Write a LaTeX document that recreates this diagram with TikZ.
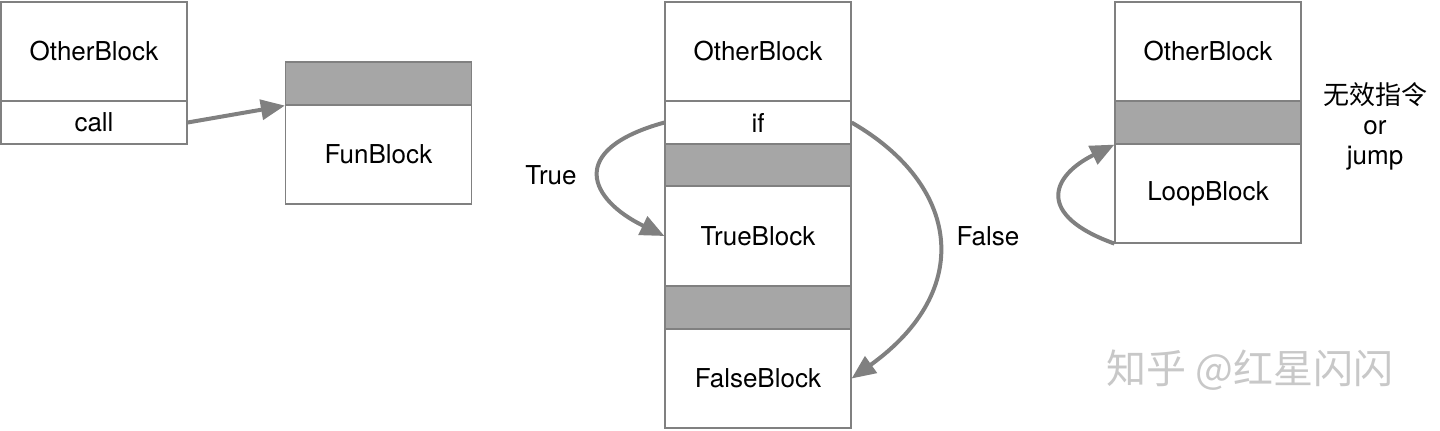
\documentclass[tikz,border=0pt]{standalone}
\usepackage{fontspec}
\setmainfont{TeX Gyre Heros}
\newfontfamily\cjk{Noto Sans CJK SC}
\usetikzlibrary{arrows.meta}
\definecolor{linegray}{RGB}{128,128,128}
\definecolor{fillgray}{RGB}{166,166,166}
\definecolor{arrgray}{RGB}{128,128,128}
\definecolor{wmgray}{RGB}{200,200,200}
\tikzset{
  cell/.style={draw=linegray, line width=0.6pt, fill=white, inner sep=0pt,
    minimum width=93pt, font=\fontsize{13}{15}\selectfont},
  shade/.style={cell, fill=fillgray},
  arr/.style={draw=arrgray, line width=2pt,
    -{Triangle[length=12pt,width=10pt]}},
  lbl/.style={font=\fontsize{13}{15}\selectfont, inner sep=0pt},
}
\begin{document}
\begin{tikzpicture}[x=0.5pt,y=-0.5pt]
\useasboundingbox (0,0) rectangle (1440,430);
% left group
\node[cell, minimum height=49.5pt] (o1) at (94,51.5) {OtherBlock};
\node[cell, minimum height=21.5pt] (call) at (94,122.5) {call};
\node[shade, minimum height=21.5pt] (fg) at (378.5,83.5) {};
\node[cell, minimum height=49.5pt] (fun) at (378.5,154.5) {FunBlock};
\draw[arr] (call.east) -- (fg.south west);
% middle group
\node[cell, minimum height=49.5pt] (o2) at (758,51.5) {OtherBlock};
\node[cell, minimum height=21.5pt] (if) at (758,122.5) {if};
\node[shade, minimum height=21pt] (g1) at (758,165) {};
\node[cell, minimum height=50pt] (tb) at (758,236) {TrueBlock};
\node[shade, minimum height=21.5pt] (g2) at (758,307.5) {};
\node[cell, minimum height=49.5pt] (fb) at (758,378.5) {FalseBlock};
\draw[arr] (if.west) .. controls (565,150) and (590,200) .. (tb.west);
\draw[arr] (if.east) .. controls (960,185) and (975,290) .. (fb.east);
\node[lbl] (tl) at (551,175) {True};
\node[lbl] (fl) at (988,236) {False};
% right group
\node[cell, minimum height=49.5pt] (o3) at (1208,51.5) {OtherBlock};
\node[shade, minimum height=21.5pt] (g3) at (1208,122.5) {};
\node[cell, minimum height=49.5pt] (lb) at (1208,193.5) {LoopBlock};
\draw[arr] (lb.south west) .. controls (1035,215) and (1051,176) .. (g3.south west);
\node[lbl, align=center, font=\fontsize{13}{15}\selectfont] (note) at (1375,126)
  {{\cjk 无效指令}\\or\\jump};
% watermark
\node[inner sep=0pt, text=wmgray, font=\cjk\fontsize{20}{24}\selectfont] (wm) at (1250,370) {知乎 @红星闪闪};
\end{tikzpicture}
\end{document}
